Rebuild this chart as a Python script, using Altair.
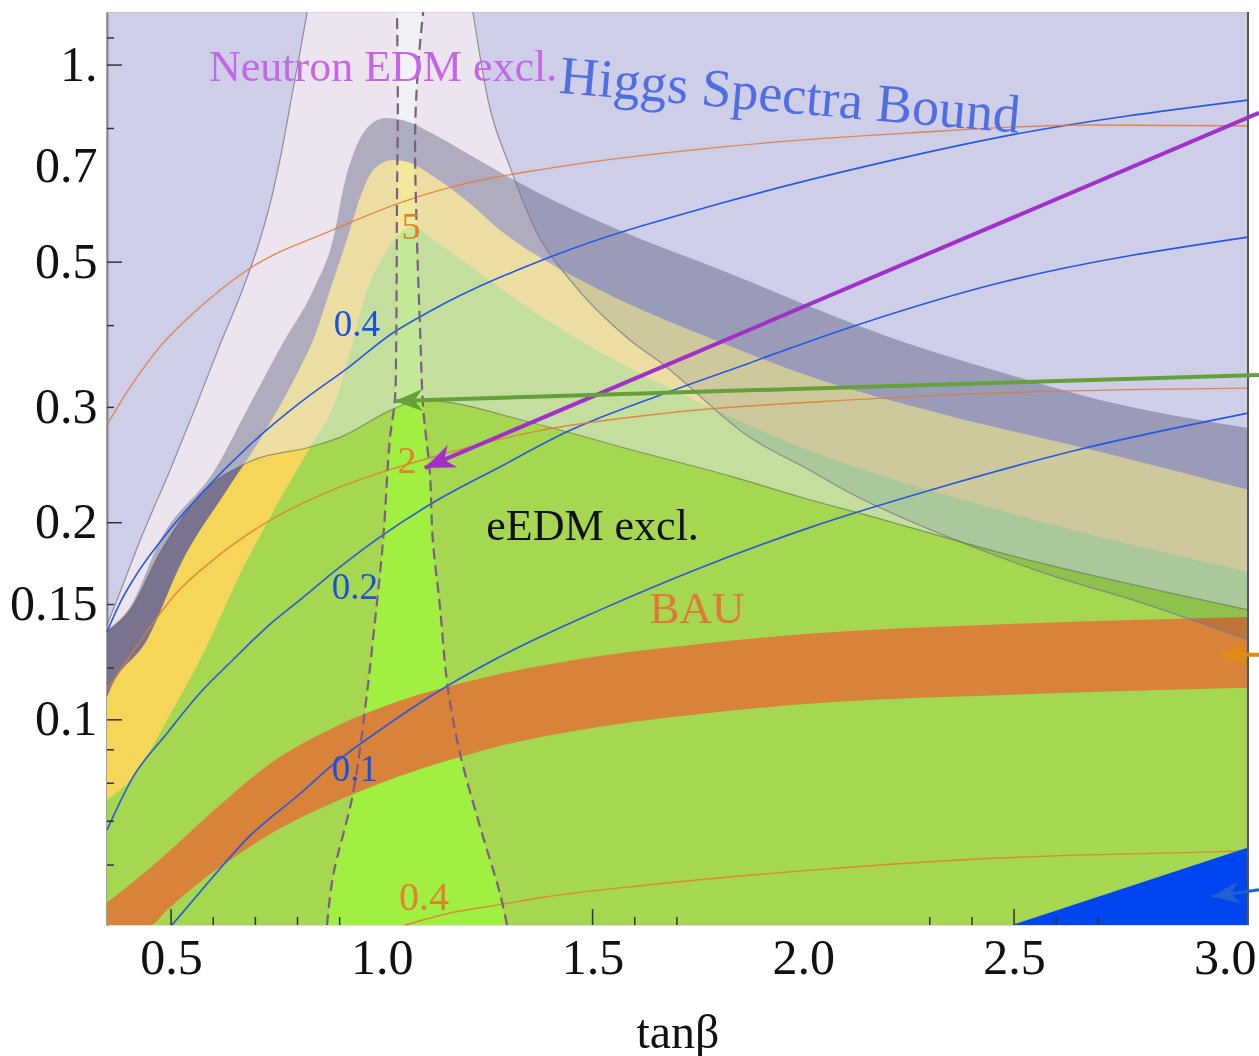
import math
import altair as alt
import pandas as pd

XMIN, XMAX = 0.348, 3.055
YMIN, YMAX = 0.0486, 1.205
W, H = 1141, 913
FONT = "Liberation Serif"

# ---------------- data (tanβ, y) ----------------
gray_x = [0.348, 0.403, 0.474, 0.604, 0.687, 0.763, 0.837, 0.884, 0.913, 0.936, 0.972, 1.008, 1.055, 1.121, 1.209, 1.375, 1.518, 1.809, 2.246, 2.466, 2.704, 3.055]
gray_y = [0.1372, 0.1488, 0.188, 0.241, 0.303, 0.374, 0.453, 0.541, 0.667, 0.742, 0.810, 0.830, 0.822, 0.785, 0.729, 0.636, 0.576, 0.485, 0.376, 0.340, 0.308, 0.279]

yel_x = [0.348, 0.355, 0.443, 0.528, 0.633, 0.711, 0.806, 0.837, 0.877, 0.917, 0.955, 0.984, 1.027, 1.067, 1.121, 1.202, 1.280, 1.399, 1.518, 1.809, 2.013, 2.329, 2.704, 3.055]
yel_y = [0.1084, 0.1111, 0.1325, 0.1755, 0.2245, 0.268, 0.345, 0.380, 0.453, 0.541, 0.644, 0.696, 0.716, 0.709, 0.677, 0.620, 0.560, 0.498, 0.453, 0.376, 0.335, 0.2932, 0.2566, 0.2245]

grn_x = [0.348, 0.410, 0.491, 0.569, 0.671, 0.751, 0.830, 0.884, 0.901, 0.932, 0.965, 1.003, 1.043, 1.074, 1.121, 1.202, 1.280, 1.399, 1.518, 1.755, 2.013, 2.466, 3.055]
grn_y = [0.0755, 0.0818, 0.100, 0.1235, 0.1706, 0.2128, 0.261, 0.300, 0.322, 0.380, 0.453, 0.509, 0.554, 0.566, 0.542, 0.497, 0.4566, 0.405, 0.3646, 0.305, 0.258, 0.209, 0.1683]

eedm_x = [0.348, 0.403, 0.474, 0.569, 0.687, 0.830, 0.901, 1.031, 1.091, 1.359, 1.596, 1.833, 2.013, 2.148, 2.466, 3.055]
eedm_y = [0.1363, 0.1472, 0.180, 0.2206, 0.248, 0.261, 0.270, 0.299, 0.308, 0.284, 0.258, 0.235, 0.217, 0.2056, 0.180, 0.1472]

hl_x = [0.348, 0.372, 0.426, 0.498, 0.557, 0.616, 0.671, 0.711, 0.740, 0.763, 0.787, 0.806, 0.823]
hl_y = [0.1396, 0.1525, 0.1876, 0.241, 0.299, 0.374, 0.4566, 0.541, 0.633, 0.742, 0.900, 1.047, 1.205]

hr_x = [1.216, 1.252, 1.304, 1.368, 1.446, 1.589, 1.660, 1.873, 2.013, 2.111, 2.345, 2.585, 2.803, 3.055]
hr_y = [1.205, 0.884, 0.699, 0.554, 0.470, 0.380, 0.352, 0.270, 0.241, 0.222, 0.190, 0.1665, 0.1509, 0.1325]

nl_y = [0.0486, 0.0576, 0.0774, 0.1100, 0.1325, 0.188, 0.268, 0.308, 0.367, 0.622, 0.884, 1.205]
nl_x = [0.870, 0.884, 0.932, 0.965, 0.979, 1.003, 1.019, 1.031, 1.034, 1.036, 1.038, 1.036]
nr_y = [0.0486, 0.0544, 0.0687, 0.0891, 0.1139, 0.1488, 0.188, 0.238, 0.300, 0.390, 0.554, 0.787, 0.993, 1.205]
nr_x = [1.297, 1.280, 1.233, 1.185, 1.155, 1.138, 1.121, 1.114, 1.098, 1.091, 1.083, 1.079, 1.086, 1.098]

bau_x = [0.348, 0.450, 0.491, 0.569, 0.647, 0.728, 0.884, 1.043, 1.202, 1.280, 1.518, 1.755, 2.013, 2.488, 3.055]
bau_hi = [0.0526, 0.0594, 0.0626, 0.0696, 0.0771, 0.0851, 0.0972, 0.1069, 0.1143, 0.1175, 0.1252, 0.1306, 0.1353, 0.1401, 0.1436]
bau_lo = [0.0486, 0.0486, 0.0513, 0.0566, 0.0615, 0.0665, 0.0747, 0.0821, 0.0884, 0.0912, 0.0976, 0.1021, 0.1058, 0.1092, 0.1119]

tri_x = [2.495, 3.055]
tri_y = [0.0486, 0.0638]

b1_x = [0.348, 0.379, 0.410, 0.491, 0.569, 0.687, 0.806, 0.925, 1.019, 1.121, 1.399, 1.809, 2.246, 2.466, 3.055]
b1_y = [0.1363, 0.1509, 0.1636, 0.193, 0.2206, 0.263, 0.305, 0.347, 0.387, 0.423, 0.509, 0.616, 0.724, 0.776, 0.884]
b2_x = [0.348, 0.410, 0.491, 0.569, 0.647, 0.728, 0.806, 0.901, 1.003, 1.121, 1.280, 1.439, 1.676, 1.873, 1.992, 2.466, 3.055]
b2_y = [0.0679, 0.0818, 0.0955, 0.1100, 0.1235, 0.1387, 0.1525, 0.1712, 0.1916, 0.2145, 0.2433, 0.2753, 0.316, 0.3508, 0.374, 0.4649, 0.546]
b3_x = [0.502, 0.569, 0.687, 0.806, 0.884, 1.003, 1.121, 1.280, 1.518, 1.755, 2.013, 2.329, 2.647, 3.055]
b3_y = [0.0486, 0.0546, 0.0665, 0.0771, 0.0854, 0.0972, 0.1092, 0.1248, 0.1472, 0.1706, 0.1964, 0.227, 0.258, 0.294]

o1_x = [0.348, 0.396, 0.467, 0.569, 0.680, 0.884, 1.043, 1.202, 1.399, 1.809, 2.246, 2.680, 3.055]
o1_y = [0.282, 0.317, 0.367, 0.427, 0.486, 0.560, 0.616, 0.660, 0.696, 0.750, 0.787, 0.810, 0.807]
o2_x = [0.348, 0.434, 0.509, 0.600, 0.728, 0.884, 1.019, 1.121, 1.359, 1.676, 2.111, 2.488, 3.055]
o2_y = [0.1111, 0.1339, 0.1552, 0.1755, 0.2005, 0.2245, 0.241, 0.252, 0.2753, 0.294, 0.308, 0.316, 0.321]
o3_x = [1.055, 1.162, 1.280, 1.375, 1.636, 2.028, 2.464, 2.986, 3.055]
o3_y = [0.0486, 0.0507, 0.0522, 0.0535, 0.0560, 0.0590, 0.0615, 0.0629, 0.0631]

x_ticks_long = [0.5, 1.5, 2.5]
x_ticks_short = [0.6, 0.7, 0.8, 0.9, 1.6, 1.7, 2.3, 2.4, 2.6, 2.7]
y_ticks_long = [1.0, 0.5, 0.2, 0.1]
y_ticks_short = [1.1, 0.8, 0.4, 0.3, 0.15, 0.12, 0.09, 0.08, 0.07, 0.06]
y_labels = [0.1, 0.15, 0.2, 0.3, 0.5, 0.7, 1.0]
x_labels = [0.5, 1.0, 1.5, 2.0, 2.5, 3.0]

# ---------------- scales / axes ----------------
xs = alt.Scale(domain=[XMIN, XMAX], nice=False, zero=False)
ys = alt.Scale(type="log", domain=[YMIN, YMAX], nice=False)

X_AXIS = alt.Axis(
    values=x_labels, format=".1f", labelFont=FONT, labelFontSize=50, labelColor="#111",
    ticks=False, tickSize=0, domain=False, grid=False, labelPadding=8, labelFlush=False,
    labelOverlap=False, title="tanβ", titleFont=FONT, titleFontSize=48,
    titleFontWeight="normal", titleColor="#111", titleBaseline="alphabetic", titleY=122)
Y_AXIS = alt.Axis(
    values=y_labels, labelExpr="datum.value == 1 ? '1.' : toString(datum.value)",
    labelFont=FONT, labelFontSize=50, labelColor="#111", ticks=False, tickSize=0,
    domain=True, domainColor="#444", domainWidth=2, grid=False, labelPadding=10,
    labelFlush=False, labelOverlap=False, title=None)


def ex(f):
    return alt.X(f"{f}:Q", scale=xs, axis=X_AXIS)


def ey(f):
    return alt.Y(f"{f}:Q", scale=ys, axis=Y_AXIS)


def below(xv, yv, color, opacity=1.0):
    df = pd.DataFrame({"x": xv, "y": yv, "y0": [YMIN] * len(xv)})
    return alt.Chart(df).mark_area(color=color, opacity=opacity, interpolate="monotone").encode(
        x=ex("x"), y=ey("y"), y2=alt.Y2("y0:Q"))


def above(xv, yv, color, opacity=1.0, blend=None):
    df = pd.DataFrame({"x": xv, "y": yv, "y1": [YMAX] * len(xv)})
    kw = dict(color=color, opacity=opacity, interpolate="monotone")
    if blend:
        kw["blend"] = blend
    return alt.Chart(df).mark_area(**kw).encode(
        x=ex("x"), y=ey("y"), y2=alt.Y2("y1:Q"))


def hband(yv, xa, xb, color, opacity):
    df = pd.DataFrame({"y": yv, "xa": xa, "xb": xb})
    return alt.Chart(df).mark_area(color=color, opacity=opacity, orient="horizontal",
                                   interpolate="monotone").encode(
        y=ey("y"), x=ex("xa"), x2=alt.X2("xb:Q"))


def curve(xv, yv, color, width, opacity=1.0, dash=None, by_y=False):
    df = pd.DataFrame({"x": xv, "y": yv})
    kw = dict(color=color, strokeWidth=width, opacity=opacity)
    if dash:
        kw["strokeDash"] = dash
    if by_y:
        return alt.Chart(df).mark_line(interpolate="catmull-rom", **kw).encode(
            x=ex("x"), y=ey("y"), order=alt.Order("y:Q"))
    return alt.Chart(df).mark_line(interpolate="monotone", **kw).encode(x=ex("x"), y=ey("y"))


def label(text, x, y, color, size, angle=0):
    df = pd.DataFrame({"x": [x], "y": [y], "t": [text]})
    return alt.Chart(df).mark_text(font=FONT, fontSize=size, color=color, align="center",
                                   baseline="middle", angle=angle).encode(
        x=ex("x"), y=ey("y"), text="t:N")


def px(x):
    return (x - XMIN) / (XMAX - XMIN) * W


def py(y):
    return H * (1 - (math.log10(y) - math.log10(YMIN)) / (math.log10(YMAX) - math.log10(YMIN)))


ARROW = "M0,0 L-2,-0.8 L-1.4,0 L-2,0.8 Z"


def arrow(x0, y0, x1, y1, color, width, head):
    df = pd.DataFrame({"x": [x0, x1], "y": [y0, y1], "o": [0, 1]})
    line = alt.Chart(df).mark_line(color=color, strokeWidth=width).encode(
        x=ex("x"), y=ey("y"), order=alt.Order("o:Q"))
    ang = math.degrees(math.atan2(py(y1) - py(y0), px(x1) - px(x0))) % 360
    hd = pd.DataFrame({"x": [x1], "y": [y1]})
    tip = alt.Chart(hd).mark_point(shape=ARROW, filled=True, color=color, opacity=1,
                                   size=head * head, angle=ang, strokeWidth=0).encode(
        x=ex("x"), y=ey("y"))
    return [line, tip]


layers = []
# bands
layers.append(below(gray_x, gray_y, "#6f798b"))
layers.append(below(yel_x, yel_y, "#ffee4c"))
layers.append(below(grn_x, grn_y, "#a1ef41"))
# neutron EDM exclusion (outside the dashed strip)
layers.append(hband(nl_y, [XMIN] * len(nl_y), nl_x, "#be50aa", 0.15))
layers.append(hband(nr_y, nr_x, [XMAX] * len(nr_y), "#be50aa", 0.15))
# BAU band
bau_df = pd.DataFrame({"x": bau_x, "hi": bau_hi, "lo": bau_lo})
layers.append(alt.Chart(bau_df).mark_area(color="#d8823a", interpolate="monotone").encode(
    x=ex("x"), y=ey("hi"), y2=alt.Y2("lo:Q")))
# eEDM exclusion overlay
layers.append(above(eedm_x, eedm_y, "#e4e6eb", 0.5))
# Higgs spectra bound overlay (multiplied tint)
layers.append(above(hl_x, hl_y, "#dfe6f8", 1.0, blend="multiply"))
layers.append(above(hr_x, hr_y, "#dfe6f8", 1.0, blend="multiply"))
# thin boundary lines
layers.append(curve(hl_x, hl_y, "#7a7a85", 1.2, 0.8))
layers.append(curve(hr_x, hr_y, "#7a7a85", 1.2, 0.8))
layers.append(curve(eedm_x, eedm_y, "#5b6b4d", 1.2, 0.6))
# contours
for cx, cy in [(b1_x, b1_y), (b2_x, b2_y), (b3_x, b3_y)]:
    layers.append(curve(cx, cy, "#2858e0", 1.6))
for cx, cy in [(o1_x, o1_y), (o2_x, o2_y), (o3_x, o3_y)]:
    layers.append(curve(cx, cy, "#e07a35", 1.4, 0.85))
# neutron dashed boundaries
layers.append(curve(nl_x, nl_y, "#7e5c86", 2.2, 1, [11, 6], by_y=True))
layers.append(curve(nr_x, nr_y, "#7e5c86", 2.2, 1, [11, 6], by_y=True))
# blue triangle
tri_df = pd.DataFrame({"x": tri_x, "y": tri_y, "y0": [YMIN, YMIN]})
layers.append(alt.Chart(tri_df).mark_area(color="#0046f0").encode(
    x=ex("x"), y=ey("y"), y2=alt.Y2("y0:Q")))
# text
layers.append(label("Neutron EDM excl.", 1.003, 0.99, "#c466ea", 44))
layers.append(label("Higgs Spectra Bound", 1.968, 0.894, "#506ee0", 54, angle=5))
layers.append(label("eEDM excl.", 1.50, 0.197, "#111111", 44))
layers.append(label("BAU", 1.748, 0.1477, "#e0783a", 45))
layers.append(label("0.4", 0.941, 0.401, "#1a50e0", 37))
layers.append(label("0.2", 0.936, 0.159, "#1a50e0", 37))
layers.append(label("0.1", 0.936, 0.0839, "#1a50e0", 37))
layers.append(label("5", 1.069, 0.564, "#e08030", 38))
layers.append(label("2", 1.060, 0.248, "#e08030", 38))
layers.append(label("0.4", 1.100, 0.0535, "#e08030", 40))
# ticks
for vals, ln in [(x_ticks_long, 16), (x_ticks_short, 8)]:
    d = pd.DataFrame({"x": vals})
    layers.append(alt.Chart(d).mark_rule(color="#333", strokeWidth=1.5).encode(
        x=ex("x"), y=alt.value(H), y2=alt.value(H - ln)))
for vals, ln in [(y_ticks_long, 15), (y_ticks_short, 7)]:
    d = pd.DataFrame({"y": vals})
    layers.append(alt.Chart(d).mark_rule(color="#333", strokeWidth=1.5).encode(
        y=ey("y"), x=alt.value(0), x2=alt.value(ln)))
# right frame
layers.append(alt.Chart(pd.DataFrame({"x": [XMAX]})).mark_rule(color="#555", strokeWidth=2).encode(
    x=ex("x")))
# arrows
layers += arrow(3.081, 0.845, 1.102, 0.2425, "#a030c8", 4, 30)
layers += arrow(3.081, 0.3363, 1.031, 0.3069, "#66a03a", 4, 28)
layers += arrow(3.081, 0.1257, 2.988, 0.1257, "#e08a10", 4, 28)
layers += arrow(3.081, 0.0550, 2.969, 0.0537, "#2060d0", 3, 28)

chart = alt.layer(*layers).properties(
    width=W, height=H,
    padding={"left": 107, "top": 12, "right": 11, "bottom": 131},
    autosize=alt.AutoSizeParams(type="none"),
).configure_view(strokeWidth=0, fill="white").configure(background="white")

chart.save("out.html", embed_options={"renderer": "svg", "actions": False})
